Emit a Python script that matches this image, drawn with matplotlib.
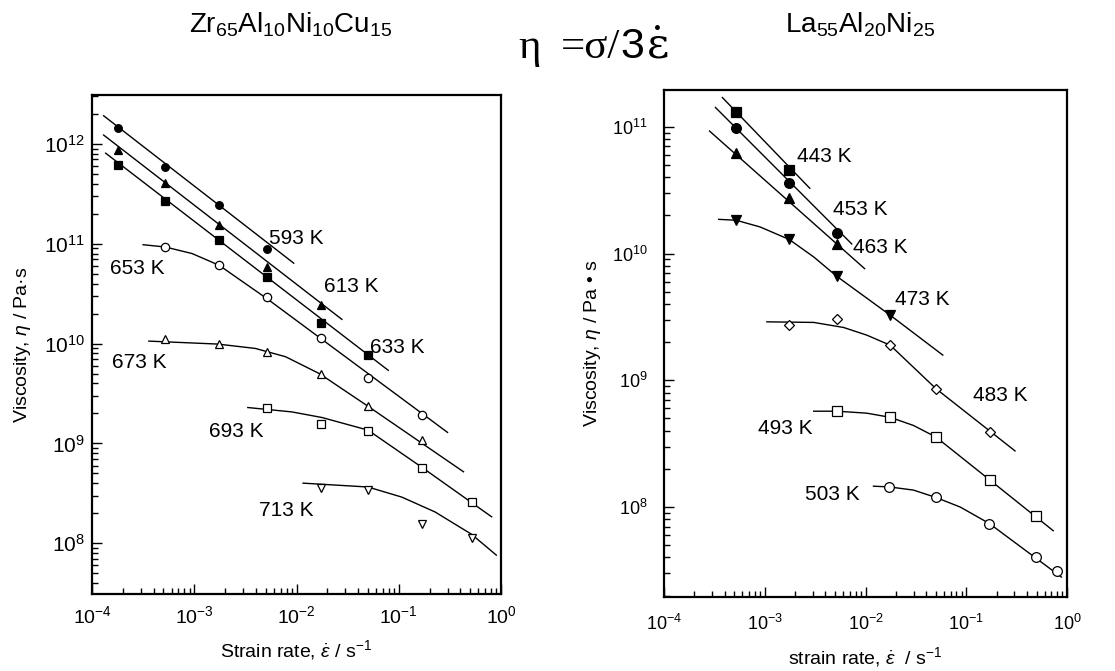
import matplotlib
matplotlib.use("Agg")
import matplotlib.pyplot as plt
from matplotlib.ticker import LogLocator, NullFormatter

plt.rcParams['font.family'] = ['Liberation Sans', 'DejaVu Sans']
plt.rcParams['mathtext.fontset'] = 'custom'
plt.rcParams['mathtext.rm'] = 'Liberation Sans'
plt.rcParams['mathtext.it'] = 'Liberation Sans:italic'
plt.rcParams['mathtext.bf'] = 'Liberation Sans:bold'

# ---------------- Left panel: Zr65Al10Ni10Cu15 ----------------
zr_labels = ["593 K", "613 K", "633 K", "653 K", "673 K", "693 K", "713 K"]

zr593_x = [1.8e-4, 5.2e-4, 1.75e-3, 5.2e-3]
zr593_y = [1.46e12, 5.9e11, 2.46e11, 8.9e10]
zr613_x = [1.8e-4, 5.2e-4, 1.75e-3, 5.2e-3, 1.72e-2]
zr613_y = [8.8e11, 4.1e11, 1.55e11, 5.9e10, 2.45e10]
zr633_x = [1.8e-4, 5.2e-4, 1.75e-3, 5.2e-3, 1.72e-2, 5.06e-2]
zr633_y = [6.2e11, 2.7e11, 1.1e11, 4.7e10, 1.6e10, 7.7e9]
zr653_x = [5.2e-4, 1.75e-3, 5.2e-3, 1.72e-2, 5.06e-2, 0.17]
zr653_y = [9.3e10, 6.1e10, 2.9e10, 1.13e10, 4.5e9, 1.92e9]
zr673_x = [5.2e-4, 1.75e-3, 5.2e-3, 1.72e-2, 5.06e-2, 0.17]
zr673_y = [1.12e10, 9.9e9, 8.2e9, 5.0e9, 2.36e9, 1.08e9]
zr693_x = [5.2e-3, 1.72e-2, 5.06e-2, 0.17, 0.515]
zr693_y = [2.29e9, 1.58e9, 1.34e9, 5.7e8, 2.6e8]
zr713_x = [1.72e-2, 5.06e-2, 0.17, 0.515]
zr713_y = [3.6e8, 3.45e8, 1.55e8, 1.13e8]

# fitted lines
zr593_fx = [1.3e-4, 9.4e-3]
zr593_fy = [1.92e12, 6.4e10]
zr613_fx = [1.3e-4, 2.78e-2]
zr613_fy = [1.23e12, 1.75e10]
zr633_fx = [1.36e-4, 7.9e-2]
zr633_fy = [8.1e11, 5.4e9]
zr653_fx = [3.16e-4, 5.2e-4, 9.5e-4, 1.75e-3, 5.2e-3, 0.30]
zr653_fy = [9.8e10, 9.3e10, 8.0e10, 6.1e10, 2.8e10, 1.29e9]
zr673_fx = [3.6e-4, 1.7e-3, 3.96e-3, 7.8e-3, 1.68e-2, 5.0e-2, 0.43]
zr673_fy = [1.06e10, 9.9e9, 8.95e9, 7.4e9, 5.0e9, 2.36e9, 5.2e8]
zr693_fx = [3.34e-3, 9.0e-3, 1.77e-2, 5.0e-2, 0.171, 0.81]
zr693_fy = [2.29e9, 2.07e9, 1.82e9, 1.36e9, 5.7e8, 1.84e8]
zr713_fx = [1.16e-2, 5.0e-2, 0.107, 0.226, 0.515, 0.90]
zr713_fy = [4.0e8, 3.66e8, 2.9e8, 2.06e8, 1.23e8, 7.6e7]

# ---------------- Right panel: La55Al20Ni25 ----------------
la_labels = ["443 K", "453 K", "463 K", "473 K", "483 K", "493 K", "503 K"]

la443_x = [5.2e-4, 1.75e-3]
la443_y = [1.31e11, 4.55e10]
la453_x = [5.2e-4, 1.75e-3, 5.2e-3]
la453_y = [9.8e10, 3.57e10, 1.44e10]
la463_x = [5.2e-4, 1.75e-3, 5.2e-3]
la463_y = [6.2e10, 2.72e10, 1.19e10]
la473_x = [5.2e-4, 1.75e-3, 5.2e-3, 1.76e-2]
la473_y = [1.83e10, 1.29e10, 6.6e9, 3.26e9]
la483_x = [1.73e-3, 5.2e-3, 1.76e-2, 4.99e-2, 0.172]
la483_y = [2.72e9, 3.07e9, 1.89e9, 8.6e8, 3.9e8]
la493_x = [5.2e-3, 1.76e-2, 4.99e-2, 0.172, 0.49]
la493_y = [5.7e8, 5.1e8, 3.57e8, 1.63e8, 8.5e7]
la503_x = [1.73e-2, 4.99e-2, 0.17, 0.49, 0.79]
la503_y = [1.44e8, 1.19e8, 7.4e7, 4.03e7, 3.1e7]

la443_fx = [3.8e-4, 2.8e-3]
la443_fy = [1.7e11, 3.27e10]
la453_fx = [3.24e-4, 7.3e-3]
la453_fy = [1.42e11, 1.19e10]
la463_fx = [2.83e-4, 9.8e-3]
la463_fy = [9.25e10, 7.6e9]
la473_fx = [3.49e-4, 5.2e-4, 9.0e-4, 1.75e-3, 3.06e-3, 5.2e-3, 1.76e-2, 5.85e-2]
la473_fy = [1.86e10, 1.83e10, 1.62e10, 1.29e10, 9.4e9, 6.6e9, 3.26e9, 1.58e9]
la483_fx = [1.05e-3, 3.06e-3, 6.05e-3, 1.03e-2, 1.76e-2, 4.99e-2, 0.305]
la483_fy = [2.89e9, 2.86e9, 2.61e9, 2.27e9, 1.89e9, 8.6e8, 2.77e8]
la493_fx = [3.06e-3, 5.2e-3, 1.03e-2, 1.76e-2, 2.99e-2, 4.99e-2, 0.172, 0.73]
la493_fy = [5.7e8, 5.7e8, 5.5e8, 5.1e8, 4.4e8, 3.57e8, 1.63e8, 6.5e7]
la503_fx = [1.2e-2, 1.73e-2, 2.99e-2, 4.99e-2, 8.7e-2, 0.17, 0.88]
la503_fy = [1.46e8, 1.44e8, 1.36e8, 1.19e8, 1.0e8, 7.4e7, 2.8e7]

W, H = 1115, 671
fig = plt.figure(figsize=(W / 100, H / 100), dpi=100)
fig.patch.set_facecolor('white')

axL = fig.add_axes([92 / W, 77 / H, 409 / W, 499 / H])
axR = fig.add_axes([664 / W, 74 / H, 403 / W, 507 / H])

lw = 1.0


def series(ax, x, y, fx, fy, marker, filled, ms):
    ax.plot(fx, fy, '-', color='black', lw=lw, zorder=2)
    ax.plot(x, y, linestyle='none', marker=marker, ms=ms,
            markerfacecolor='black' if filled else 'white',
            markeredgecolor='black', markeredgewidth=0.9, zorder=3)


series(axL, zr593_x, zr593_y, zr593_fx, zr593_fy, 'o', True, 5.5)
series(axL, zr613_x, zr613_y, zr613_fx, zr613_fy, '^', True, 6)
series(axL, zr633_x, zr633_y, zr633_fx, zr633_fy, 's', True, 5.5)
series(axL, zr653_x, zr653_y, zr653_fx, zr653_fy, 'o', False, 6)
series(axL, zr673_x, zr673_y, zr673_fx, zr673_fy, '^', False, 6)
series(axL, zr693_x, zr693_y, zr693_fx, zr693_fy, 's', False, 6)
series(axL, zr713_x, zr713_y, zr713_fx, zr713_fy, 'v', False, 6)

series(axR, la443_x, la443_y, la443_fx, la443_fy, 's', True, 6.5)
series(axR, la453_x, la453_y, la453_fx, la453_fy, 'o', True, 7)
series(axR, la463_x, la463_y, la463_fx, la463_fy, '^', True, 7.5)
series(axR, la473_x, la473_y, la473_fx, la473_fy, 'v', True, 7.5)
series(axR, la483_x, la483_y, la483_fx, la483_fy, 'D', False, 5.5)
series(axR, la493_x, la493_y, la493_fx, la493_fy, 's', False, 6.5)
series(axR, la503_x, la503_y, la503_fx, la503_fy, 'o', False, 7)

lab_fs = 15
zr_pos = [(5.4e-3, 1.12e11), (1.85e-2, 3.7e10), (5.2e-2, 9.2e9), (1.5e-4, 5.6e10),
          (1.58e-4, 6.5e9), (1.4e-3, 1.33e9), (4.3e-3, 2.14e8)]
for t, (px, py) in zip(zr_labels, zr_pos):
    axL.text(px, py, t, fontsize=lab_fs, ha='left', va='center')

la_pos = [(2.1e-3, 5.8e10), (4.8e-3, 2.24e10), (7.55e-3, 1.12e10), (1.97e-2, 4.35e9),
          (0.117, 7.6e8), (8.6e-4, 4.2e8), (2.5e-3, 1.26e8)]
for t, (px, py) in zip(la_labels, la_pos):
    axR.text(px, py, t, fontsize=lab_fs, ha='left', va='center')

for ax in (axL, axR):
    ax.set_xscale('log')
    ax.set_yscale('log')
    ax.set_xlim(1e-4, 1)
    ax.xaxis.set_major_locator(LogLocator(base=10, numticks=10))
    ax.yaxis.set_major_locator(LogLocator(base=10, numticks=10))
    ax.xaxis.set_minor_locator(LogLocator(base=10, subs=range(2, 10), numticks=20))
    ax.yaxis.set_minor_locator(LogLocator(base=10, subs=range(2, 10), numticks=20))
    ax.xaxis.set_minor_formatter(NullFormatter())
    ax.yaxis.set_minor_formatter(NullFormatter())
    ax.tick_params(which='both', direction='in', top=False, right=False, width=1.0)
    ax.tick_params(which='major', length=7)
    ax.tick_params(which='minor', length=4)
    for s in ax.spines.values():
        s.set_linewidth(1.6)

axL.set_ylim(3.1e7, 3.1e12)
axR.set_ylim(1.95e7, 1.95e11)
axL.tick_params(axis='x', pad=8, labelsize=14)
axL.tick_params(axis='y', pad=5, labelsize=15)
axR.tick_params(axis='x', pad=12, labelsize=13)
axR.tick_params(axis='y', pad=12, labelsize=13)

axL.set_xlabel(r'Strain rate, $\dot{\varepsilon}$ / s$^{-1}$', fontsize=14, labelpad=8)
axR.set_xlabel(r'strain rate, $\dot{\varepsilon}$  / s$^{-1}$', fontsize=14, labelpad=8)
axL.set_ylabel(r'Viscosity, $\eta$ / Pa·s', fontsize=14, labelpad=8)
axR.set_ylabel(r'Viscosity, $\eta$ / Pa • s', fontsize=14, labelpad=6)

fig.text(291 / W, 1 - 25 / H, r'$\mathregular{Zr_{65}Al_{10}Ni_{10}Cu_{15}}$',
         fontsize=20, ha='center', va='center')
fig.text(860 / W, 1 - 25 / H, r'$\mathregular{La_{55}Al_{20}Ni_{25}}$',
         fontsize=20, ha='center', va='center')

# formula eta = sigma / 3 epsilon-dot, pieces chained left to right
f_fs = 31
f_base = 1 - 58 / H
serif = ['Liberation Serif', 'DejaVu Serif']
fig.text(518 / W, f_base, 'η', fontsize=f_fs, family=serif, ha='left', va='baseline')
p1 = fig.text(561 / W, f_base, '=σ/', fontsize=f_fs, family=serif, ha='left', va='baseline')
p2 = fig.text(0, 0, '', fontsize=1)
p2 = plt.annotate('3', xy=(1, 0), xycoords=p1, fontsize=f_fs,
                  family=['Liberation Sans'], ha='left', va='bottom',
                  annotation_clip=False)
p3 = plt.annotate('ε\u0307', xy=(1, 0), xycoords=p2, xytext=(2, 0),
                  textcoords='offset points', fontsize=f_fs,
                  family=['DejaVu Serif'], ha='left', va='bottom',
                  annotation_clip=False)

fig.savefig('out.png', dpi=100, facecolor='white')
